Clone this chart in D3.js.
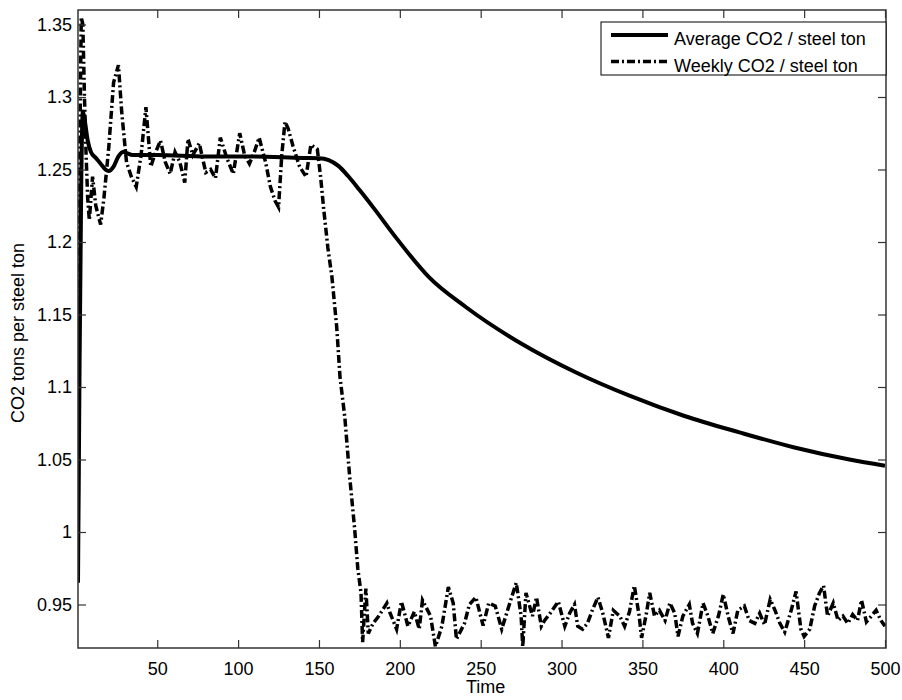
<!DOCTYPE html>
<html>
<head>
<meta charset="utf-8">
<script src="https://cdn.jsdelivr.net/npm/d3@7"></script>
<style>
  body { margin: 0; background: #fff; }
  text { font-family: "Liberation Sans", Arial, sans-serif; fill: #000; }
</style>
</head>
<body>
<div id="chart"></div>
<script>
// Zeitreihen
const avgTime = [1, 2, 3, 4, 5, 7, 9, 12, 15, 18, 20, 23, 26, 29, 35, 50, 80, 110, 140, 150, 156, 162, 168, 175, 184, 198, 218, 241, 275, 309, 342, 376, 410, 444, 478, 500];
const avgValue = [0.965, 1.12, 1.24, 1.29, 1.285, 1.27, 1.262, 1.258, 1.254, 1.25, 1.249, 1.252, 1.259, 1.262, 1.26, 1.26, 1.259, 1.259, 1.258, 1.2578, 1.2565, 1.2525, 1.2455, 1.236, 1.2232, 1.2025, 1.1758, 1.155, 1.13, 1.11, 1.094, 1.08, 1.0687, 1.0583, 1.05, 1.0457];

const weekTime = [1, 2, 3, 4, 5, 6, 7, 8, 10, 12, 15, 17, 20, 23, 26, 28, 31, 34, 37, 40, 43, 46, 49, 52, 55, 58, 61, 64, 67, 69, 72, 76, 80, 83, 86, 89, 93, 97, 101, 104, 107, 110, 113, 117, 120, 123, 125, 127, 129, 131, 134, 138, 142, 145, 149, 151, 153, 155.5, 158, 161, 163, 166, 169, 172, 174, 176, 177, 179, 180.5, 183.5, 187, 192, 194, 198, 201, 205, 209, 212, 214, 219, 222, 226, 230, 233, 235, 240, 243, 247, 251.5, 255, 259, 263, 268, 272, 275, 276, 278, 282, 284.5, 287.5, 289.5, 293, 298, 302, 305, 308, 310, 313, 316, 319, 322.5, 325.5, 329, 332, 336, 339, 342, 345, 348, 349.5, 352.5, 354.5, 357.5, 360.5, 364, 367, 370, 372, 375, 379, 381, 384, 387.5, 390.5, 393.5, 397, 400, 403, 406, 409, 413, 416, 419.5, 422.5, 425.5, 429, 432, 435, 438, 442, 445, 448, 450, 453.5, 456.5, 459.5, 462, 464.5, 468, 471, 474, 477, 480, 483, 485.5, 488.5, 491.5, 494.5, 497.5, 500];
const weekValue = [0.97, 1.25, 1.355, 1.35, 1.3, 1.26, 1.23, 1.215, 1.245, 1.225, 1.212, 1.23, 1.265, 1.31, 1.322, 1.29, 1.255, 1.245, 1.238, 1.26, 1.293, 1.252, 1.262, 1.27, 1.255, 1.247, 1.262, 1.255, 1.241, 1.271, 1.26, 1.268, 1.248, 1.25, 1.244, 1.272, 1.258, 1.247, 1.275, 1.26, 1.254, 1.262, 1.272, 1.255, 1.238, 1.228, 1.224, 1.26, 1.283, 1.278, 1.266, 1.252, 1.245, 1.267, 1.264, 1.245, 1.222, 1.196, 1.176, 1.141, 1.107, 1.079, 1.038, 1.003, 0.975, 0.958, 0.924, 0.961, 0.93, 0.937, 0.942, 0.951, 0.944, 0.933, 0.952, 0.935, 0.945, 0.933, 0.953, 0.942, 0.921, 0.935, 0.962, 0.951, 0.926, 0.937, 0.95, 0.955, 0.9355, 0.951, 0.949, 0.933, 0.951, 0.965, 0.942, 0.921, 0.958, 0.942, 0.955, 0.935, 0.939, 0.944, 0.952, 0.935, 0.944, 0.95, 0.935, 0.933, 0.937, 0.946, 0.955, 0.944, 0.927, 0.946, 0.942, 0.935, 0.945, 0.963, 0.942, 0.927, 0.944, 0.958, 0.942, 0.946, 0.939, 0.951, 0.944, 0.928, 0.942, 0.95, 0.937, 0.93, 0.951, 0.942, 0.93, 0.942, 0.957, 0.942, 0.93, 0.946, 0.949, 0.939, 0.937, 0.944, 0.936, 0.9535, 0.946, 0.937, 0.931, 0.946, 0.959, 0.933, 0.928, 0.933, 0.949, 0.958, 0.963, 0.942, 0.951, 0.939, 0.942, 0.937, 0.943, 0.939, 0.953, 0.938, 0.942, 0.946, 0.939, 0.935];

const xTicks = [50, 100, 150, 200, 250, 300, 350, 400, 450, 500];
const yTicks = [0.95, 1, 1.05, 1.1, 1.15, 1.2, 1.25, 1.3, 1.35];
const seriesNames = ["Average CO2 / steel ton", "Weekly CO2 / steel ton"];

const W = 902, H = 700;
const margin = { top: 10, right: 16, bottom: 52, left: 78 };
const width = W - margin.left - margin.right;
const height = H - margin.top - margin.bottom;

const svg = d3.select("#chart").append("svg")
    .attr("width", W)
    .attr("height", H);

const g = svg.append("g")
    .attr("transform", `translate(${margin.left},${margin.top})`);

// Skalen
const x = d3.scaleLinear().domain([1, 500]).range([0, width - 1]);
const y = d3.scaleLinear().domain([0.92, 1.36]).range([height, 0]);

g.append("clipPath").attr("id", "clip")
  .append("rect").attr("width", width).attr("height", height);

// Linien
const avgData = avgTime.map((t, i) => ({ t, v: avgValue[i] }));
const weekData = weekTime.map((t, i) => ({ t, v: weekValue[i] }));

const lineSmooth = d3.line().x(d => x(d.t)).y(d => y(d.v)).curve(d3.curveMonotoneX);
const lineRaw = d3.line().x(d => x(d.t)).y(d => y(d.v));

const lines = g.append("g").attr("clip-path", "url(#clip)");

lines.append("path")
    .datum(weekData)
    .attr("fill", "none")
    .attr("stroke", "#000")
    .attr("stroke-width", 3.5)
    .attr("stroke-dasharray", "8,3,2,3")
    .attr("d", lineRaw);

lines.append("path")
    .datum(avgData)
    .attr("fill", "none")
    .attr("stroke", "#000")
    .attr("stroke-width", 4)
    .attr("stroke-linejoin", "round")
    .attr("d", lineSmooth);

// Achsen (Matlab-Stil: Ticks innen, auf allen Seiten)
const axisColor = "#333";
const tickLen = 8;

const xAxis = g.append("g")
    .attr("transform", `translate(0,${height})`)
    .call(d3.axisBottom(x).tickValues(xTicks).tickSize(-tickLen).tickPadding(14).tickFormat(d3.format("d")));
const xTop = g.append("g")
    .call(d3.axisTop(x).tickValues(xTicks).tickSize(-tickLen).tickFormat(""));
const yAxis = g.append("g")
    .call(d3.axisLeft(y).tickValues(yTicks).tickSize(-tickLen).tickPadding(6).tickFormat(d => String(d)));
const yRight = g.append("g")
    .attr("transform", `translate(${width},0)`)
    .call(d3.axisRight(y).tickValues(yTicks).tickSize(-tickLen).tickFormat(""));

[xAxis, xTop, yAxis, yRight].forEach(a => {
    a.select(".domain").remove();
    a.selectAll(".tick line").attr("stroke", axisColor).attr("stroke-width", 1.2);
    a.selectAll(".tick text").attr("font-size", 18).attr("font-family", "Liberation Sans, Arial, sans-serif").attr("fill", "#000");
});

g.append("rect")
    .attr("width", width)
    .attr("height", height)
    .attr("fill", "none")
    .attr("stroke", axisColor)
    .attr("stroke-width", 1.5);

// Achsenbeschriftungen
g.append("text")
    .attr("x", x(250) + 5)
    .attr("y", height + 45)
    .attr("text-anchor", "middle")
    .attr("font-size", 18)
    .text("Time");

g.append("text")
    .attr("transform", `translate(${-54},${height / 2 + 4}) rotate(-90)`)
    .attr("text-anchor", "middle")
    .attr("font-size", 18)
    .text("CO2 tons per steel ton");

// Legende
const legend = g.append("g").attr("transform", `translate(${width - 285},12)`);
legend.append("rect")
    .attr("width", 285)
    .attr("height", 53)
    .attr("fill", "#fff")
    .attr("stroke", "#000")
    .attr("stroke-width", 1);

seriesNames.forEach((name, i) => {
    const row = legend.append("g").attr("transform", `translate(0,${13 + i * 26.5})`);
    row.append("line")
        .attr("x1", 10).attr("x2", 67)
        .attr("stroke", "#000")
        .attr("stroke-width", i === 0 ? 4 : 3.5)
        .attr("stroke-dasharray", i === 0 ? null : "8,3,2,3");
    row.append("text")
        .attr("x", 73)
        .attr("y", 10)
        .attr("font-size", 18)
        .text(name);
});
</script>
</body>
</html>
